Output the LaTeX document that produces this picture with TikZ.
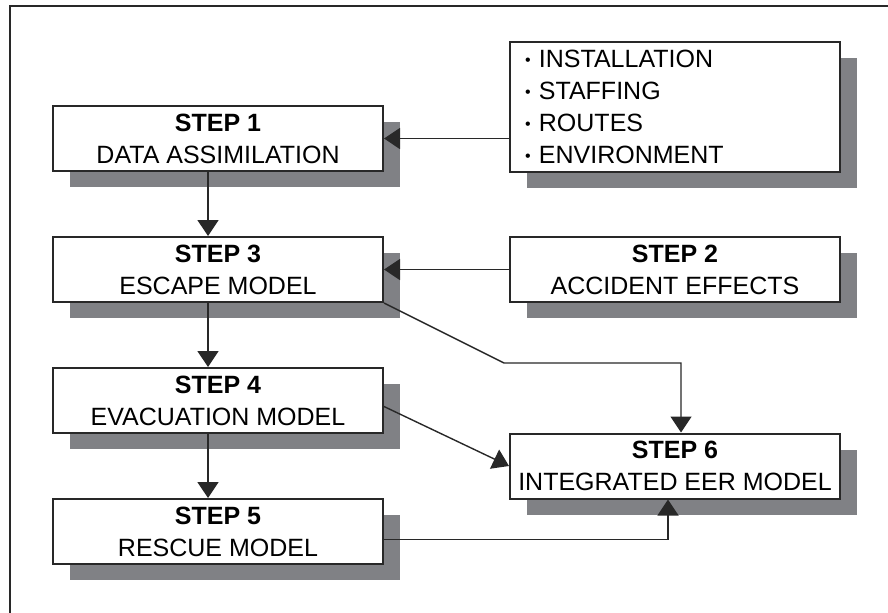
\documentclass[tikz,border=0pt]{standalone}
\usepackage{fontspec}
\setmainfont{Liberation Sans}
\usepackage{tikz}
\usetikzlibrary{calc}
\usetikzlibrary{positioning}
\usetikzlibrary{arrows.meta}
\usetikzlibrary{shadows}
\definecolor{shade}{RGB}{128,129,133}
\definecolor{rim}{RGB}{40,40,40}

\begin{document}
\begin{tikzpicture}[x=0.5pt, y=-0.5pt]

        \def\d{32pt}
        \def\h{62.5pt}
        \def\bl{\raisebox{1.2pt}{\footnotesize\textbullet}\ }

        % Boxes carry a flat grey shadow down and to the right
        \tikzset{
            stepbox/.style={draw=rim, line width=1pt, fill=white,
                minimum width=165pt, minimum height=32.5pt,
                align=center, inner sep=0pt,
                font=\fontsize{12.5}{16}\selectfont,
                drop shadow={shadow xshift=8.5pt, shadow yshift=-8pt,
                    fill=shade, opacity=1}},
            flow/.style={line width=0.7pt,
                -{Triangle[width=10.5pt,length=8pt]}}
        }

        \useasboundingbox (0,0) rectangle (888,612);
        \draw[rim, line width=1.2pt] (10,640) -- (10,6) -- (900,6);

        % Scope used for the boxes
        \begin{scope}
            \node (S1) [stepbox] at (218,138.5)
            {\textbf{STEP 1}\\DATA ASSIMILATION};
            \node (S3) [stepbox, below=\d of S1]
            {\textbf{STEP 3}\\ESCAPE MODEL};
            \node (S4) [stepbox, below=\d of S3]
            {\textbf{STEP 4}\\EVACUATION MODEL};
            \node (S5) [stepbox, below=\d of S4]
            {\textbf{STEP 5}\\RESCUE MODEL};
            \node (S2) [stepbox, right=\h of S3]
            {\textbf{STEP 2}\\ACCIDENT EFFECTS};
            \node (IN) [stepbox, above=31.5pt of S2, minimum height=65pt,
                text width=150pt, align=left]
            {\bl INSTALLATION\\\bl STAFFING\\
             \bl ROUTES\\\bl ENVIRONMENT};
            \coordinate (M45) at ($(S4)!.5!(S5)$);
            \node (S6) [stepbox] at (S2 |- M45)
            {\textbf{STEP 6}\\INTEGRATED EER MODEL};
            \coordinate (K) at (504,363);
        \end{scope}

        \begin{scope}[flow, rim]
            \draw (IN.west |- S1.east) -- (S1.east);
            \draw (S2.west) -- (S3.east);
            \draw ([xshift=-5pt]S1.south) -- ([xshift=-5pt]S3.north);
            \draw ([xshift=-5pt]S3.south) -- ([xshift=-5pt]S4.north);
            \draw ([xshift=-5pt]S4.south) -- ([xshift=-5pt]S5.north);
            \draw (S3.south east) -- (K) -| ([xshift=3pt]S6.north);
            \draw ([yshift=-3pt]S4.east) -- (S6.west);
            \draw ([yshift=-4pt]S5.east) -| ([xshift=-3.5pt]S6.south);
        \end{scope}

\end{tikzpicture}
\end{document}
